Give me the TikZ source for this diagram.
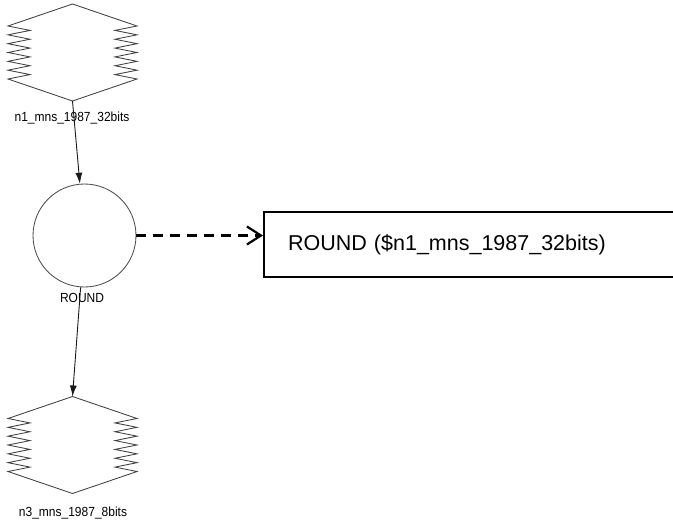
\documentclass[tikz,border=0pt]{standalone}
\usepackage{fontspec}
\setmainfont{Liberation Sans}
\usetikzlibrary{arrows.meta}
\tikzset{
  shapeline/.style={draw=black!75, line width=0.85pt},
  zigshape/.pic={
    \draw[shapeline] (0,-48.5) -- (-64.5,-26.5)
      \foreach \i in {0,...,5} { -- (-42.5,{-26.5+(\i+0.5)*8.8333}) -- (-64.5,{-26.5+(\i+1)*8.8333}) }
      -- (0,48.5) -- (64.5,26.5)
      \foreach \i in {0,...,5} { -- (42.5,{26.5-(\i+0.5)*8.8333}) -- (64.5,{26.5-(\i+1)*8.8333}) }
      -- cycle;
  },
  zignode/.style={rectangle, draw=none, minimum width=129pt, minimum height=97pt, inner sep=0pt, outer sep=0pt},
  smalllabel/.style={font=\fontsize{12}{14}\selectfont, text=black, inner sep=0pt, yscale=1.1},
  flow/.style={draw=black!90, line width=0.9pt, -{Latex[length=11pt,width=7pt]}},
  depend/.style={draw=black, line width=2.2pt, dash pattern=on 9.5pt off 7.5pt, -{Straight Barb[length=14pt,width=18pt]}},
  exprbox/.style={draw=black, line width=2pt, anchor=west, minimum height=65pt, text width=400pt, align=left, inner xsep=24pt, font=\fontsize{21.5}{24}\selectfont},
}
\begin{document}
\begin{tikzpicture}[x=1pt,y=-1pt]
\useasboundingbox (0,0) rectangle (673,525);
% top data node
\node[zignode] (n1) at (72.5,52.5) {};
\pic at (n1) {zigshape};
\node[smalllabel] (l1) at (72,118) {n1\_mns\_1987\_32bits};
% operator
\node[circle, draw=black!70, line width=0.85pt, minimum size=103pt, inner sep=0pt] (c) at (84.5,235.5) {};
\node[smalllabel] (lc) at (82,298) {ROUND};
% bottom data node
\node[zignode] (n3) at (72.5,445) {};
\pic at (n3) {zigshape};
\node[smalllabel] (l3) at (73,513) {n3\_mns\_1987\_8bits};
% expression box
\node[exprbox] (r) at (263,244.5) {ROUND (\$n1\_mns\_1987\_32bits)};
% connectors
\draw[flow] (n1.south) -- (c);
\draw[flow] (c) -- (n3.north);
\draw[depend] (c.east) -- (c.east -| r.west);
\end{tikzpicture}
\end{document}
